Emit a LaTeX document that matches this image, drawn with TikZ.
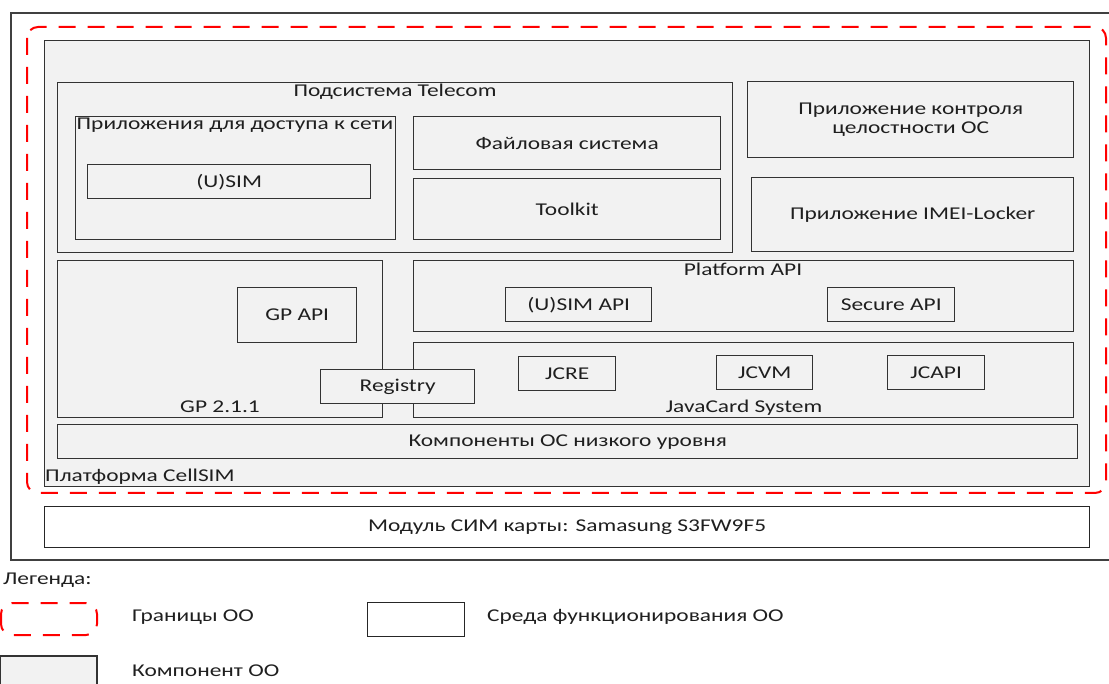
\documentclass[tikz,border=0pt]{standalone}
\usepackage{fontspec}
\setmainfont{Carlito}[FakeStretch=1.3]
\begin{document}
\begin{tikzpicture}[x=1pt,y=-1pt,
  every node/.style={font=\fontsize{18}{19}\selectfont, text=black!88, inner sep=0pt},
  comp/.style={draw=black!80, line width=1.4pt, fill=gray!10, anchor=north west},
  env/.style={draw=black!85, line width=1.4pt, fill=white, anchor=north west},
  toeb/.style={draw=red, line width=2pt, dash pattern=on 17pt off 12pt, rounded corners=11pt}
]
\useasboundingbox (0,0) rectangle (1109,684);
% outer environment frame (right side cut off)
\draw[black!75, line width=1.1pt] (1109,13) -- (11,13) -- (11,560) -- (1109,560);
% TOE boundary
\draw[toeb] (27,27) rectangle (1106,493);
% Platform CellSIM
\node[comp, minimum width=1045, minimum height=446] (plat) at (44,40) {};
\node[anchor=west] (platl) at (45,477) {Платформа CellSIM};
% Telecom
\node[comp, minimum width=675, minimum height=170] (tel) at (57,82) {};
\node (tell) at (395,92) {Подсистема Telecom};
\node[comp, minimum width=320, minimum height=123] (net) at (75,116) {};
\node (netl) at (235,125) {Приложения для доступа к сети};
\node[comp, minimum width=283, minimum height=34] (usim) at (87,164) {(U)SIM};
\node[comp, minimum width=307, minimum height=53] (fs) at (413,116) {Файловая система};
\node[comp, minimum width=307, minimum height=61] (tk) at (413,178) {Toolkit};
% right apps
\node[comp, minimum width=326, minimum height=76, align=center] (integ) at (747,81) {Приложение контроля\\[0pt]целостности ОС};
\node[comp, minimum width=322, minimum height=74] (imei) at (751,177) {Приложение IMEI-Locker};
% GP
\node[comp, minimum width=325, minimum height=157] (gp) at (57,260) {};
\node (gpl) at (220,407) {GP 2.1.1};
\node[comp, minimum width=119, minimum height=55] (gpapi) at (237,287) {GP API};
% Platform API
\node[comp, minimum width=660, minimum height=71] (papi) at (413,260) {};
\node (papil) at (743,269) {Platform API};
\node[comp, minimum width=146, minimum height=34] (usimapi) at (505,287) {(U)SIM API};
\node[comp, minimum width=127, minimum height=34] (secapi) at (827,287) {Secure API};
% JavaCard
\node[comp, minimum width=660, minimum height=75] (jc) at (413,342) {};
\node (jcl) at (744,408) {JavaCard System};
\node[comp, minimum width=97, minimum height=34] (jcre) at (518,356) {JCRE};
\node[comp, minimum width=96, minimum height=34] (jcvm) at (716,355) {JCVM};
\node[comp, minimum width=97, minimum height=34] (jcapi) at (887,355) {JCAPI};
% Registry (overlaps GP and JavaCard)
\node[comp, minimum width=154, minimum height=34] (reg) at (320,369) {Registry};
% Low-level OS
\node[comp, minimum width=1020, minimum height=34] (low) at (57,424) {Компоненты ОС низкого уровня};
% SIM module
\node[env, minimum width=1045, minimum height=41] (mod) at (44,506) {Модуль СИМ карты: Samasung S3FW9F5};
% Legend
\node[anchor=west] (leg) at (3,580) {Легенда:};
\draw[toeb] (1,603) rectangle (97,635);
\node[anchor=west] (legtoel) at (132,617) {Границы ОО};
\node[env, minimum width=97, minimum height=34] (legenv) at (367,602) {};
\node[anchor=west] (legenvl) at (487,617) {Среда функционирования ОО};
\draw[draw=black!80, line width=1.4pt, fill=gray!10] (97,690) -- (97,656) -- (0.7,656) -- (0.7,690);
\node[anchor=west] (legcompl) at (132,671) {Компонент ОО};
\end{tikzpicture}
\end{document}
